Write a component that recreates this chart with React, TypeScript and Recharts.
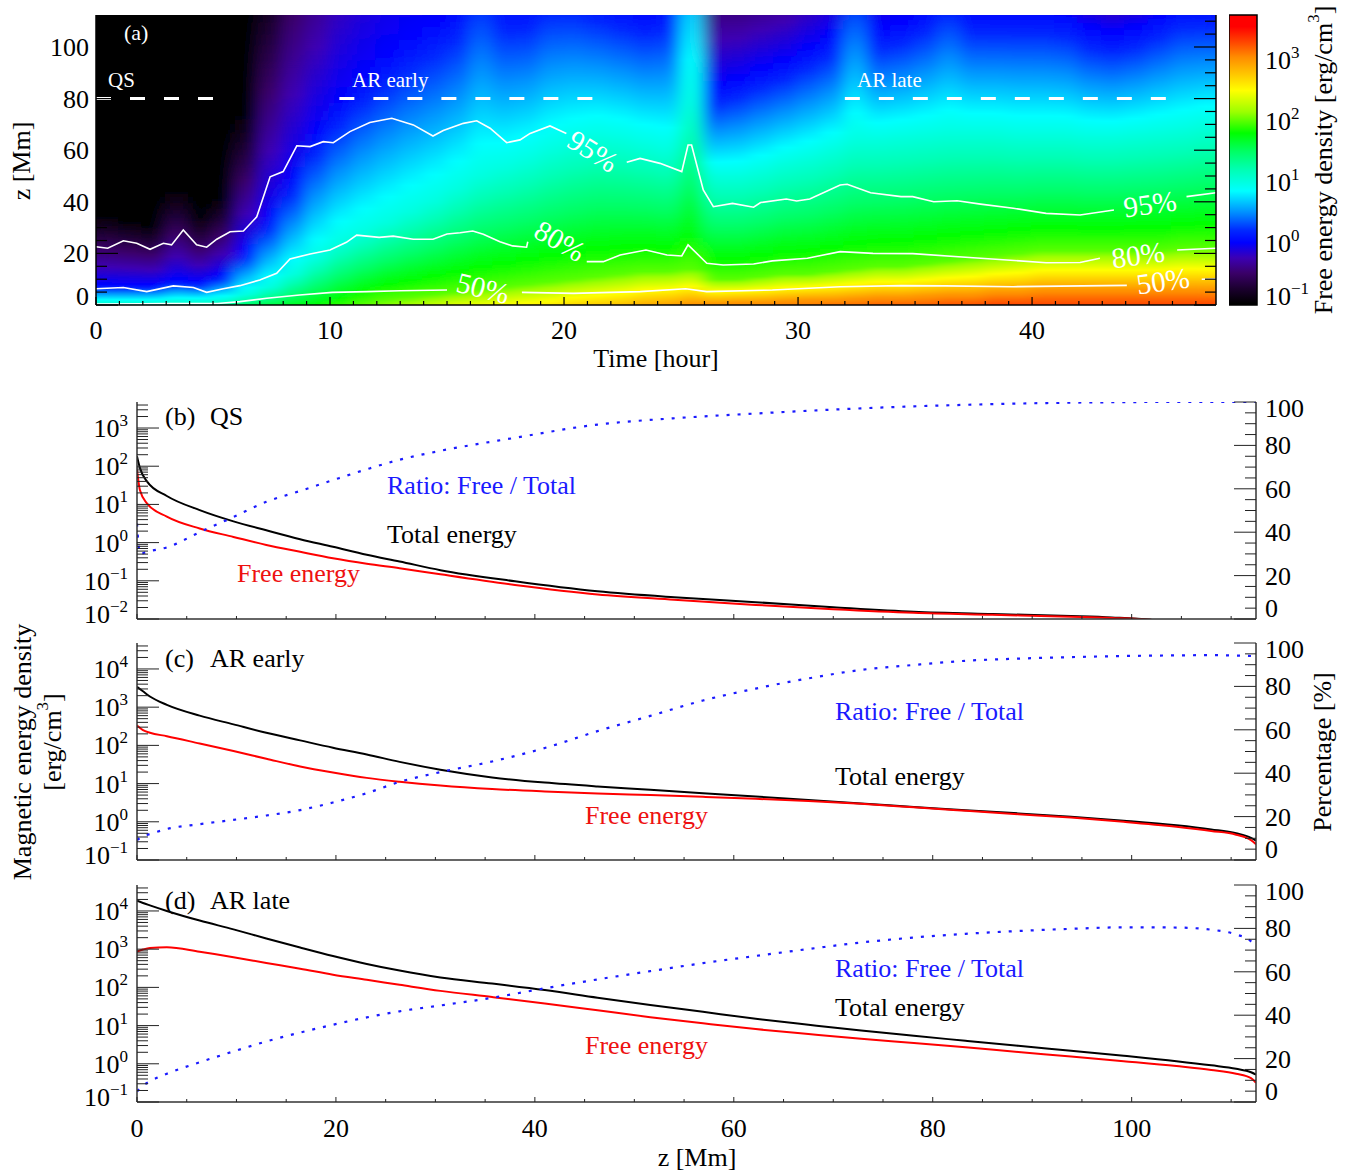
import React from 'react';
import {
  BarChart,
  Bar,
  Cell,
  XAxis,
  YAxis,
  LineChart,
  Line,
  ComposedChart,
  ReferenceLine,
  ReferenceArea,
} from 'recharts';

const FONT = '"Liberation Serif", "Times New Roman", Times, serif';

// ---------- panel (a): free energy density vs time and height ----------
const T_MAX = 47.86;
const Z_TOP = 112.4;

// one column per hour; log10 density at the bottom and at the top,
// plus the heights (Mm) where the density falls through each decade
const heatTime = [0.5, 1.5, 2.5, 3.5, 4.5, 5.5, 6.5, 7.5, 8.5, 9.5, 10.5, 11.5, 12.5, 13.5, 14.5, 15.5, 16.5, 17.5, 18.5, 19.5, 20.5, 21.5, 22.5, 23.5, 24.5, 25.5, 26.5, 27.5, 28.5, 29.5, 30.5, 31.5, 32.5, 33.5, 34.5, 35.5, 36.5, 37.5, 38.5, 39.5, 40.5, 41.5, 42.5, 43.5, 44.5, 45.5, 46.5, 47.5];
const heatBase = [1.1, 1.1, 1.1, 1.15, 1.2, 1.3, 1.5, 1.6, 1.7, 1.8, 1.9, 2.0, 2.1, 2.2, 2.3, 2.4, 2.45, 2.5, 2.55, 2.6, 2.7, 2.75, 2.8, 2.9, 2.95, 3.02, 3.02, 3.05, 3.05, 3.1, 3.1, 3.15, 3.15, 3.2, 3.2, 3.2, 3.25, 3.25, 3.3, 3.3, 3.3, 3.3, 3.3, 3.3, 3.3, 3.3, 3.3, 3.3];
const heatH3 = [null, null, null, null, null, null, null, null, null, null, null, null, null, null, null, null, null, null, null, null, null, null, null, null, null, 0.5, 0.5, 1, 1, 1.5, 2, 2, 2.5, 3, 3, 3.5, 4, 4, 5, 5, 6, 6, 6, 6, 6, 6, 6, 6];
const heatH2 = [null, null, null, null, null, null, null, null, null, null, null, null, 2, 3, 4, 5, 6, 7, 8, 9, 10, 11, 12, 13, 13, 14, 10, 10, 11, 12, 12, 13, 14, 15, 15, 16, 17, 18, 19, 20, 21, 21, 21, 21, 21, 21, 22, 22];
const heatH1 = [1, 1, 1, 1.5, 1.5, 2, 4, 7, 12, 18, 24, 28, 32, 36, 40, 45, 50, 53, 56, 60, 63, 65, 64, 62, 60, 78, 50, 50, 52, 55, 57, 60, 64, 64, 65, 66, 67, 67, 67, 66, 66, 66, 65, 65, 66, 67, 68, 70];
const heatH0 = [8, 8, 8, 10, 9, 12, 22, 35, 50, 68, 80, 90, 98, 105, 110, null, null, null, null, null, null, null, null, null, null, null, 85, 88, 92, 95, 100, 105, null, 108, 110, null, null, null, null, null, null, null, 108, 106, 108, null, null, null];
const heatHm1 = [35, 33, 31, 45, 34, 42, 75, null, null, null, null, null, null, null, null, null, null, null, null, null, null, null, null, null, null, null, null, null, null, null, null, null, null, null, null, null, null, null, null, null, null, null, null, null, null, null, null, null];
const heatTopLog = [-1.4, -1.4, -1.4, -1.4, -1.4, -1.35, -1.2, -0.8, -0.5, -0.35, -0.2, -0.12, -0.06, -0.03, -0.02, 0.05, 0.25, 0.1, 0.1, 0.2, 0.2, 0.15, 0.1, 0.05, 0.1, 0.7, -0.4, -0.4, -0.35, -0.3, -0.2, -0.1, 0.3, -0.05, -0.02, 0.05, 0.2, 0.05, 0.05, 0.05, 0.05, 0.02, -0.1, -0.15, -0.1, 0.0, 0.1, 0.1];

// contour lines (null = gap for the label)
const c95T = [0, 0.5, 1.17, 1.74, 2.31, 2.88, 3.23, 3.73, 4.3, 4.73, 5.16, 5.73, 6.3, 6.87, 7.44, 8.0, 8.58, 9.15, 9.71, 10.14, 10.85, 11.7, 12.64, 13.56, 14.4, 14.84, 15.7, 16.27, 16.84, 17.55, 18.12, 18.55, 19.4, 20.1, 20.2, 22.68, 23.25, 24.1, 25.03, 25.3, 25.45, 25.95, 26.38, 27.2, 28.1, 28.4, 29.5, 29.94, 30.5, 31.8, 32.1, 33.1, 34.4, 34.9, 35.8, 36.8, 37.8, 39.2, 40.6, 42.05, 43.5, 45.0, 46.6, 47.86];
const c95Z = [22.6, 22.0, 24.9, 23.9, 21.6, 23.9, 23.3, 29.1, 23.3, 22.4, 25.5, 28.4, 28.7, 34.2, 49.7, 51.7, 61.7, 61.4, 63.3, 62.9, 67.2, 70.7, 72.4, 69.8, 65.5, 67.6, 70.4, 71.4, 68.5, 62.9, 64, 66.5, 69.4, 66.5, null, 55.3, 56.8, 54.9, 51.7, 62, 62, 44.6, 38.1, 39.4, 37.9, 39.7, 41.1, 40.3, 41.1, 46.5, 46.8, 43.5, 42, 42, 40, 40.4, 39.1, 37.5, 35.5, 34.9, 36.8, null, 42, 43.5];
const c80T = [0, 1.17, 2.17, 3.3, 4.16, 4.73, 5.44, 6.15, 7.0, 7.72, 8.29, 9.15, 10.0, 10.7, 11.14, 12.1, 12.7, 13.56, 14.4, 15.0, 15.56, 16.1, 16.55, 17.26, 17.8, 18.4, 18.45, 19.0, 20.97, 21.68, 22.4, 23.5, 24.4, 25.03, 25.3, 26.1, 26.8, 28.1, 28.9, 30.4, 31.8, 33.2, 34.9, 37.8, 40.6, 42.05, 42.9, 44.0, 46.2, 47.86];
const c80Z = [6.3, 6.8, 5.2, 7.4, 6.8, 4.9, 6.3, 7.5, 9.7, 12.3, 17.8, 19.8, 21.3, 24.3, 27.1, 26.2, 26.7, 25.5, 25.5, 27.5, 28, 28.7, 27.4, 24.5, 22.9, 22.4, 24.5, null, 16.8, 16.8, 19.4, 21.3, 19.4, 19, 23.3, 16.2, 15.5, 15.9, 17.1, 18.1, 20.7, 20, 19.9, 18.1, 16.4, 16.5, 18.1, null, 21.3, 22];
const c50T = [0, 2.0, 3.0, 5.2, 6.15, 7.3, 8.7, 10.1, 11.6, 13.0, 15.0, 16.0, 18.2, 20.4, 23.25, 25.2, 26.1, 28.9, 31.8, 34.4, 36.3, 39.2, 44.05, 45.0, 47.25, 47.86];
const c50Z = [0.4, 0.5, 0.6, 0.6, 1.3, 2.6, 3.9, 4.9, 5.2, 5.5, 5.8, null, 4.9, 4.5, 5.2, 6.3, 5.2, 5.8, 7.1, 7.5, 7.4, 7.1, 7.6, null, 10, 10.2];

// the three periods marked at z = 80 Mm
const periodNames = ['QS', 'AR early', 'AR late'];
const periodStart = [0, 10.4, 32.0];
const periodEnd = [5.1, 21.3, 45.8];
const PERIOD_Z = 80;

const timeLabels = [0, 10, 20, 30, 40];
const zLabels = [0, 20, 40, 60, 80, 100];

// ---------- panels (b)-(d): profiles vs height ----------
const Z_MAX = 112.5;
const qsZ = [0, 0.3, 1, 3, 6.3, 9.7, 13, 16.4, 19.7, 23.1, 26.4, 30.5, 38, 46.3, 54, 62.2, 70, 78.1, 86, 93.9, 98, 101.9, 104, 112.5];
const qsTotal = [182, 89, 40, 16.6, 7.1, 3.6, 2.1, 1.23, 0.78, 0.48, 0.32, 0.19, 0.097, 0.053, 0.037, 0.0275, 0.0204, 0.0155, 0.0135, 0.012, 0.011, 0.0095, 0.008, 0.005];
const qsFree = [81, 23.4, 10.7, 4.8, 2.34, 1.41, 0.87, 0.575, 0.39, 0.28, 0.214, 0.148, 0.078, 0.044, 0.032, 0.0234, 0.018, 0.0145, 0.0129, 0.0115, 0.0107, 0.0095, 0.008, 0.005];
const qsRatio = [44, 30, 31, 33, 40, 47, 54, 59, 64, 69, 73.4, 77.5, 83.5, 89.6, 92.5, 94.7, 96.5, 98, 99, 99.7, 99.9, 100, 100, 100];

const arZ = [0, 0.6, 1.3, 3, 6.3, 9.7, 13, 16.4, 19.7, 23.1, 26.4, 30.5, 35.7, 41, 46.3, 51.6, 56.9, 62.2, 67.5, 72.8, 78.1, 83.3, 88.6, 93.9, 99.2, 104.5, 108, 110.5, 112, 112.5];
const earlyTotal = [3390, 2600, 1900, 1150, 600, 355, 214, 135, 87, 58, 37, 23, 14.5, 10.6, 8.4, 6.9, 5.6, 4.6, 3.7, 3.0, 2.45, 2.0, 1.66, 1.35, 1.07, 0.81, 0.63, 0.5, 0.38, 0.32];
const earlyFree = [331, 250, 214, 174, 112, 71, 44.7, 28, 19.5, 14.1, 11.2, 8.9, 7.2, 6.2, 5.5, 5.0, 4.5, 4.0, 3.5, 2.95, 2.4, 1.95, 1.58, 1.29, 1.0, 0.74, 0.575, 0.46, 0.33, 0.26];
const earlyRatio = [9.2, 11, 12, 14.3, 16.5, 18.5, 20.5, 23, 26.5, 30.8, 36, 40.5, 45.4, 51.6, 59.4, 66.4, 73.5, 79, 83.7, 87.6, 89.9, 91.8, 92.8, 93.5, 94, 94.3, 94.4, 94.2, 94, 93.9];
const lateTotal = [18600, 16200, 14000, 10000, 5600, 3300, 1900, 1100, 660, 410, 275, 182, 126, 85, 53.7, 34.7, 22.9, 15.1, 10.5, 7.4, 5.4, 4.0, 2.95, 2.19, 1.62, 1.17, 0.91, 0.74, 0.6, 0.52];
const lateFree = [871, 977, 1070, 1120, 851, 617, 437, 309, 214, 158, 117, 81, 56, 38, 25.1, 16.6, 11.5, 8.1, 6.0, 4.5, 3.5, 2.7, 2.04, 1.55, 1.17, 0.87, 0.69, 0.55, 0.42, 0.32];
const lateRatio = [4.9, 7.5, 9.5, 13, 18.3, 23.3, 27.9, 32, 35.6, 39, 41.8, 44.5, 48, 52.4, 56.5, 60.3, 64, 67.3, 70.5, 73.5, 75.8, 77.5, 78.8, 79.8, 80.5, 80.4, 79.4, 77.2, 74, 71.2];

const qsDecades = [0.01, 0.1, 1, 10, 100, 1000];
const arDecades = [0.1, 1, 10, 100, 1000, 10000];
const pctLabels = [0, 20, 40, 60, 80, 100];
const zMmLabels = [0, 20, 40, 60, 80, 100];
const cbarDecades = [0.1, 1, 10, 100, 1000];

// rainbow colour table (log10 value -> colour)
const cmapStops: [number, string][] = [
  [-1.0, '#000000'],
  [-0.75, '#1c0030'],
  [-0.5, '#3a0068'],
  [-0.25, '#3c00b4'],
  [0.0, '#0000ff'],
  [0.2, '#0028ff'],
  [0.5, '#0090ff'],
  [0.85, '#00ffff'],
  [1.2, '#00ffb4'],
  [1.5, '#00ff64'],
  [1.8, '#00ff00'],
  [2.15, '#9cff00'],
  [2.5, '#ffff00'],
  [2.8, '#ffc000'],
  [3.05, '#ff8c00'],
  [3.3, '#ff4400'],
  [3.55, '#ff0000'],
  [3.8, '#ff0000'],
];

const hexRgb = (h: string) => [1, 3, 5].map((k) => parseInt(h.slice(k, k + 2), 16));
const cmap = (v: number) => {
  if (v <= cmapStops[0][0]) return cmapStops[0][1];
  const last = cmapStops[cmapStops.length - 1];
  if (v >= last[0]) return last[1];
  for (let k = 0; k < cmapStops.length - 1; k++) {
    const [a, ca] = cmapStops[k];
    const [b, cb] = cmapStops[k + 1];
    if (v >= a && v <= b) {
      const f = (v - a) / (b - a);
      const A = hexRgb(ca);
      const B = hexRgb(cb);
      const c = A.map((x, j) => Math.round(x + (B[j] - x) * f));
      return `rgb(${c[0]},${c[1]},${c[2]})`;
    }
  }
  return last[1];
};

// gradient stops for one time column (offset 0 = top of plot)
const columnStops = (i: number) => {
  const pts: [number, number][] = [[0, heatBase[i]]];
  const levels: [number, (number | null)[]][] = [[3, heatH3], [2, heatH2], [1, heatH1], [0, heatH0], [-1, heatHm1]];
  levels.forEach(([lv, arr]) => {
    const h = arr[i];
    if (h != null && h > 0 && h < Z_TOP) pts.push([h, lv]);
  });
  pts.push([Z_TOP, heatTopLog[i]]);
  pts.sort((a, b) => a[0] - b[0]);
  const stops: { off: number; color: string }[] = [];
  for (let k = 0; k < pts.length; k++) {
    const [z, v] = pts[k];
    stops.push({ off: 1 - z / Z_TOP, color: cmap(v) });
    if (k < pts.length - 1) {
      const [z2, v2] = pts[k + 1];
      cmapStops.forEach(([cv]) => {
        if ((cv - v) * (cv - v2) < 0) {
          const zz = z + ((cv - v) / (v2 - v)) * (z2 - z);
          stops.push({ off: 1 - zz / Z_TOP, color: cmap(cv) });
        }
      });
    }
  }
  return stops.sort((a, b) => a.off - b.off);
};

const heatRows = heatTime.map((t) => ({ t, span: Z_TOP }));
const contour = (ts: number[], zs: (number | null)[]) => ts.map((t, i) => ({ t, z: zs[i] }));

// ---------- tick renderers (IDL style: ticks inside the frame) ----------
const Sup = ({ e }: { e: number }) => (
  <tspan dy={-11} fontSize={17}>{e < 0 ? `\u2212${-e}` : `${e}`}</tspan>
);

const TimeTick = (p: any) => {
  const major = timeLabels.includes(p.payload.value);
  return (
    <g>
      <line x1={p.x} x2={p.x} y1={p.y} y2={p.y - (major ? 8 : 4)} stroke="#000" strokeWidth={1.2} />
      {major && (
        <text x={p.x} y={p.y + 34} textAnchor="middle" fontSize={26} fontFamily={FONT} fill="#000">
          {p.payload.value}
        </text>
      )}
    </g>
  );
};

const makeTopTick = (majors: number[], long: number, short: number) => (p: any) => (
  <line x1={p.x} x2={p.x} y1={p.y} y2={p.y + (majors.includes(p.payload.value) ? long : short)} stroke="#000" strokeWidth={1.2} />
);

const HeightTick = (p: any) => {
  const v = p.payload.value;
  const major = zLabels.includes(v);
  return (
    <g>
      <line x1={p.x} x2={p.x + (major ? 22 : 11)} y1={p.y} y2={p.y} stroke="#000" strokeWidth={1.2} />
      {major && (
        <text x={p.x - 7} y={p.y + 9 + (v === 0 ? -9 : 0)} textAnchor="end" fontSize={26} fontFamily={FONT} fill="#000">
          {v}
        </text>
      )}
    </g>
  );
};

const makeRightTick = (majors: number[]) => (p: any) => (
  <line x1={p.x} x2={p.x - (majors.includes(p.payload.value) ? 22 : 11)} y1={p.y} y2={p.y} stroke="#000" strokeWidth={1.2} />
);

const makeLogTick = (bottom: number) => (p: any) => {
  const v = p.payload.value;
  const lg = Math.log10(v);
  const e = Math.round(lg);
  const major = Math.abs(lg - e) < 1e-6;
  const shift = Math.abs(v - bottom) / bottom < 1e-6 ? -5 : 0;
  return (
    <g>
      <line x1={p.x} x2={p.x + (major ? 22 : 11)} y1={p.y} y2={p.y} stroke="#222" strokeWidth={1} />
      {major && (
        <text x={p.x - 9} y={p.y + 9 + shift} textAnchor="end" fontSize={26} fontFamily={FONT} fill="#000">
          10<Sup e={e} />
        </text>
      )}
    </g>
  );
};

const PctTick = (p: any) => {
  const v = p.payload.value;
  const major = pctLabels.includes(v);
  const shift = v === 0 ? -11 : v === 100 ? 6 : 0;
  return (
    <g>
      <line x1={p.x} x2={p.x - (major ? 22 : 11)} y1={p.y} y2={p.y} stroke="#222" strokeWidth={1} />
      {major && (
        <text x={p.x + 9} y={p.y + 9 + shift} textAnchor="start" fontSize={26} fontFamily={FONT} fill="#000">
          {v}
        </text>
      )}
    </g>
  );
};

const makeZTick = (showLabels: boolean) => (p: any) => {
  const v = p.payload.value;
  const major = zMmLabels.includes(v);
  return (
    <g>
      <line x1={p.x} x2={p.x} y1={p.y} y2={p.y - (major ? 5 : 3)} stroke="#222" strokeWidth={1} />
      {major && showLabels && (
        <text x={p.x} y={p.y + 35} textAnchor="middle" fontSize={26} fontFamily={FONT} fill="#000">
          {v}
        </text>
      )}
    </g>
  );
};

const CbarTick = (p: any) => {
  const v = p.payload.value;
  const e = Math.round(Math.log10(v));
  return (
    <text x={p.x + 8} y={p.y + 9 + (e === -1 ? -8 : 0)} textAnchor="start" fontSize={26} fontFamily={FONT} fill="#000">
      10<Sup e={e} />
    </text>
  );
};

const hourTicks = Array.from({ length: 48 }, (_, i) => i);
const zFiveTicks = Array.from({ length: 23 }, (_, i) => i * 5);
const pctTicks = Array.from({ length: 21 }, (_, i) => i * 5);
const frame = { stroke: '#000', strokeWidth: 1.5 };
const frameGray = { stroke: '#333', strokeWidth: 1.5 };

// ---------- panel (a) ----------
const HeatLayer = ({ id, smooth }: { id: string; smooth: boolean }) => (
  <div style={{ position: 'absolute', left: 0, top: 0, filter: smooth ? 'url(#timeSmooth)' : undefined }}>
    <BarChart width={1120} height={290} data={heatRows} barCategoryGap={0} barGap={0}
      margin={{ top: 0, right: 0, bottom: 0, left: 0 }}>
      <defs>
        {heatRows.map((_, i) => (
          <linearGradient key={i} id={`${id}-${i}`} x1="0" y1="0" x2="0" y2="1">
            {columnStops(i).map((s, k) => (
              <stop key={k} offset={s.off} stopColor={s.color} />
            ))}
          </linearGradient>
        ))}
      </defs>
      <XAxis dataKey="t" type="number" domain={[0, T_MAX]} allowDataOverflow hide />
      <YAxis type="number" domain={[0, Z_TOP]} allowDataOverflow hide />
      <Bar dataKey="span" isAnimationActive={false}>
        {heatRows.map((_, i) => (
          <Cell key={i} fill={`url(#${id}-${i})`} stroke={`url(#${id}-${i})`} strokeWidth={3} />
        ))}
      </Bar>
    </BarChart>
  </div>
);

const MapPanel = () => (
  <>
    <svg width={0} height={0} style={{ position: 'absolute' }}>
      <defs>
        <filter id="timeSmooth" x="-5%" y="-5%" width="110%" height="110%">
          <feGaussianBlur stdDeviation="8 0.6" edgeMode="duplicate" />
        </filter>
      </defs>
    </svg>
    <div style={{ position: 'absolute', left: 96, top: 15, width: 1120, height: 290, overflow: 'hidden' }}>
      <HeatLayer id="hs" smooth={false} />
      <HeatLayer id="hb" smooth={true} />
    </div>
    <div style={{ position: 'absolute', left: 0, top: 0 }}>
      <LineChart width={1361} height={380} margin={{ top: 15, right: 144, left: 36, bottom: 45 }}>
        <XAxis dataKey="t" type="number" domain={[0, T_MAX]} allowDataOverflow ticks={hourTicks} interval={0}
          tickSize={0} tickMargin={0} tickLine={false} height={30} axisLine={frame} tick={TimeTick} />
        <XAxis xAxisId="top" orientation="top" type="number" domain={[0, T_MAX]} allowDataOverflow ticks={hourTicks}
          interval={0} tickSize={0} tickMargin={0} tickLine={false} height={0} axisLine={frame}
          tick={makeTopTick(timeLabels, 8, 4)} />
        <YAxis type="number" domain={[0, Z_TOP]} allowDataOverflow ticks={zFiveTicks} interval={0} tickSize={0}
          tickMargin={0} tickLine={false} width={60} axisLine={frame} tick={HeightTick} />
        <YAxis yAxisId="right" orientation="right" type="number" domain={[0, Z_TOP]} allowDataOverflow ticks={zFiveTicks}
          interval={0} tickSize={0} tickMargin={0} tickLine={false} width={1} axisLine={frame}
          tick={makeRightTick(zLabels)} />
        {periodNames.map((n, i) => (
          <ReferenceLine key={n} segment={[{ x: periodStart[i], y: PERIOD_Z }, { x: periodEnd[i], y: PERIOD_Z }]}
            stroke="#fff" strokeWidth={3} strokeDasharray="15 19" />
        ))}
        <Line data={contour(c95T, c95Z)} dataKey="z" stroke="#fff" strokeWidth={1.6} dot={false} isAnimationActive={false} />
        <Line data={contour(c80T, c80Z)} dataKey="z" stroke="#fff" strokeWidth={1.6} dot={false} isAnimationActive={false} />
        <Line data={contour(c50T, c50Z)} dataKey="z" stroke="#fff" strokeWidth={1.6} dot={false} isAnimationActive={false} />
      </LineChart>
    </div>
  </>
);

const ColorBar = () => {
  const dom = [0.095, 5500];
  const lo = Math.log10(dom[0]);
  const hi = Math.log10(dom[1]);
  return (
    <div style={{ position: 'absolute', left: 1229, top: 0 }}>
      <ComposedChart width={132} height={380} data={[{ x: 0, v: 1 }, { x: 1, v: 1 }]} margin={{ top: 15, right: 34, left: 0, bottom: 75 }}>
        <defs>
          <linearGradient id="cbar" x1="0" y1="1" x2="0" y2="0">
            {cmapStops.map(([v, c], k) => (
              <stop key={k} offset={Math.min(1, Math.max(0, (v - lo) / (hi - lo)))} stopColor={c} />
            ))}
          </linearGradient>
        </defs>
        <XAxis dataKey="x" type="number" domain={[0, 1]} hide />
        <YAxis orientation="right" type="number" scale="log" domain={dom} allowDataOverflow ticks={cbarDecades}
          interval={0} width={70} tickSize={0} tickMargin={0} tickLine={false} axisLine={false} tick={CbarTick} />
        <ReferenceArea y1={dom[0]} y2={dom[1]} fill="url(#cbar)" fillOpacity={1} stroke="#000" strokeWidth={1.5} />
        <Line dataKey="v" stroke="none" dot={false} isAnimationActive={false} />
      </ComposedChart>
    </div>
  );
};

// ---------- panels (b)-(d) ----------
const PLOT_H = 217;

type PanelProps = {
  plotTop: number;
  zs: number[];
  total: number[];
  free: number[];
  ratio: number[];
  domain: [number, number];
  decades: number[];
  showLabels: boolean;
};

const EnergyPanel = ({ plotTop, zs, total, free, ratio, domain, decades, showLabels }: PanelProps) => {
  const rows = zs.map((z, i) => ({ z, total: total[i], free: free[i], ratio: ratio[i] }));
  const logTicks: number[] = [];
  decades.forEach((d) => {
    [1, 2, 3, 4, 5, 6, 7, 8, 9].forEach((m) => {
      const v = d * m;
      if (v >= domain[0] * 0.999 && v <= domain[1]) logTicks.push(v);
    });
  });
  return (
    <div style={{ position: 'absolute', left: 0, top: plotTop - 20 }}>
      <ComposedChart width={1361} height={PLOT_H + 70} data={rows} margin={{ top: 20, right: 25, left: 57, bottom: 10 }}>
        <XAxis dataKey="z" type="number" domain={[0, Z_MAX]} allowDataOverflow ticks={zFiveTicks} interval={0}
          tickSize={0} tickMargin={0} tickLine={false} height={40} axisLine={frameGray} tick={makeZTick(showLabels)} />
        <XAxis xAxisId="top" orientation="top" type="number" domain={[0, Z_MAX]} allowDataOverflow ticks={zFiveTicks}
          interval={0} tickSize={0} tickMargin={0} tickLine={false} height={0} axisLine={frameGray}
          tick={makeTopTick(zMmLabels, 5, 3)} />
        <YAxis yAxisId="e" type="number" scale="log" domain={domain} allowDataOverflow ticks={logTicks} interval={0}
          tickSize={0} tickMargin={0} tickLine={false} width={80} axisLine={frameGray} tick={makeLogTick(domain[0])} />
        <YAxis yAxisId="p" orientation="right" type="number" domain={[0, 100]} allowDataOverflow ticks={pctTicks}
          interval={0} tickSize={0} tickMargin={0} tickLine={false} width={80} axisLine={frameGray} tick={PctTick} />
        <Line yAxisId="e" type="monotone" dataKey="total" stroke="#000" strokeWidth={2} dot={false} isAnimationActive={false} />
        <Line yAxisId="e" type="monotone" dataKey="free" stroke="#f00" strokeWidth={2} dot={false} isAnimationActive={false} />
        <Line yAxisId="p" type="monotone" dataKey="ratio" stroke="#1a1aff" strokeWidth={2.2} strokeDasharray="3 8" dot={false} isAnimationActive={false} />
      </ComposedChart>
    </div>
  );
};

// ---------- free text ----------
const T = (p: any) => <text fontFamily={FONT} fontSize={26} fill="#000" {...p} />;
const VT = ({ x, y, children, ...rest }: any) => (
  <text transform={`translate(${x},${y}) rotate(-90)`} textAnchor="middle" dominantBaseline="central" fontFamily={FONT} fontSize={26} fill="#000" {...rest}>
    {children}
  </text>
);
const CL = ({ x, y, a, children }: any) => (
  <text transform={`translate(${x},${y}) rotate(${a})`} textAnchor="middle" dominantBaseline="central" fontFamily={FONT} fontSize={29} fill="#fff">
    {children}
  </text>
);

const BLUE = '#1a1aff';
const RED = '#ee1111';

const Annotations = () => (
  <svg width={1361} height={1175} style={{ position: 'absolute', left: 0, top: 0, pointerEvents: 'none' }}>
    {/* panel (a) */}
    <T x={124} y={40} fontSize={22} fill="#fff">(a)</T>
    <T x={108} y={87} fontSize={21} fill="#fff">{periodNames[0]}</T>
    <T x={352} y={87} fontSize={21} fill="#fff">{periodNames[1]}</T>
    <T x={857} y={87} fontSize={21} fill="#fff">{periodNames[2]}</T>
    <CL x={593} y={151} a={32}>95%</CL>
    <CL x={560} y={241} a={30}>80%</CL>
    <CL x={483} y={288} a={14}>50%</CL>
    <CL x={1150} y={204} a={-8}>95%</CL>
    <CL x={1138} y={255} a={-8}>80%</CL>
    <CL x={1163} y={281} a={-8}>50%</CL>
    <VT x={21} y={161}>z [Mm]</VT>
    <T x={656} y={367} textAnchor="middle">Time [hour]</T>
    <VT x={1323} y={160}>
      Free energy density [erg/cm<tspan dy={-10} fontSize={17}>3</tspan><tspan dy={10}>]</tspan>
    </VT>

    {/* panel (b) */}
    <T x={165} y={425}>(b)</T>
    <T x={210} y={425}>QS</T>
    <T x={387} y={494} fill={BLUE}>Ratio: Free / Total</T>
    <T x={387} y={543}>Total energy</T>
    <T x={237} y={582} fill={RED}>Free energy</T>

    {/* panel (c) */}
    <T x={165} y={667}>(c)</T>
    <T x={210} y={667}>AR early</T>
    <T x={835} y={720} fill={BLUE}>Ratio: Free / Total</T>
    <T x={835} y={785}>Total energy</T>
    <T x={585} y={824} fill={RED}>Free energy</T>

    {/* panel (d) */}
    <T x={165} y={909}>(d)</T>
    <T x={210} y={909}>AR late</T>
    <T x={835} y={977} fill={BLUE}>Ratio: Free / Total</T>
    <T x={835} y={1016}>Total energy</T>
    <T x={585} y={1054} fill={RED}>Free energy</T>

    <VT x={22} y={752}>Magnetic energy density</VT>
    <VT x={52} y={742}>
      [erg/cm<tspan dy={-10} fontSize={17}>3</tspan><tspan dy={10}>]</tspan>
    </VT>
    <VT x={1322} y={752}>Percentage [%]</VT>
    <T x={697} y={1166} textAnchor="middle">z [Mm]</T>
  </svg>
);

export default function App() {
  return (
    <div style={{ position: 'absolute', left: 0, top: 0, width: 1361, height: 1175, background: '#fff', fontFamily: FONT }}>
      <MapPanel />
      <ColorBar />
      <EnergyPanel plotTop={402} zs={qsZ} total={qsTotal} free={qsFree} ratio={qsRatio} domain={[0.01, 4800]} decades={qsDecades} showLabels={false} />
      <EnergyPanel plotTop={643} zs={arZ} total={earlyTotal} free={earlyFree} ratio={earlyRatio} domain={[0.1, 47800]} decades={arDecades} showLabels={false} />
      <EnergyPanel plotTop={885} zs={arZ} total={lateTotal} free={lateFree} ratio={lateRatio} domain={[0.1, 47800]} decades={arDecades} showLabels={true} />
      <Annotations />
    </div>
  );
}
